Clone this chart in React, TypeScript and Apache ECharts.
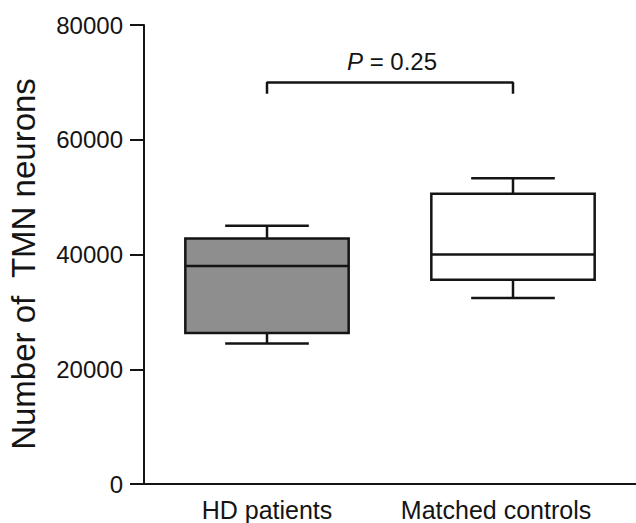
import React, { useEffect, useRef } from "react";
import * as echarts from "echarts";

const categories = ["HD patients", "Matched controls"];
const lowWhisker = [24500, 32400];
const q1 = [26300, 35600];
const median = [38000, 40000];
const q3 = [42800, 50600];
const highWhisker = [45000, 53300];
const boxFill = ["#8e8e8e", "#ffffff"];
const bracketLow = 68000;
const bracketHigh = 70000;
const pLabelItalic = "P";
const pLabelRest = " = 0.25";
const yAxisTitle = "Number of  TMN neurons";

const INK = "#141414";
const FONT = "'Liberation Sans', Arial, Helvetica, sans-serif";

export default function App() {
  const ref = useRef<HTMLDivElement>(null);

  useEffect(() => {
    if (!ref.current) return;
    const chart = echarts.init(ref.current, undefined, { renderer: "svg" });

    const boxData = categories.map((_, i) => [
      i,
      lowWhisker[i],
      q1[i],
      median[i],
      q3[i],
      highWhisker[i],
    ]);

    const bracketData = [
      [0, bracketLow],
      [0, bracketHigh],
      [1, bracketHigh],
      [1, bracketLow],
    ];

    const option: any = {
      animation: false,
      backgroundColor: "#ffffff",
      grid: { left: 144, top: 25, width: 496, height: 459, containLabel: false },
      xAxis: {
        type: "category",
        data: categories,
        axisLine: { lineStyle: { color: INK, width: 2 } },
        axisTick: { show: false },
        axisLabel: {
          interval: 0,
          hideOverlap: false,
          margin: 13,
          color: INK,
          fontFamily: FONT,
          fontSize: 25,
          formatter: (v: string, idx: number) =>
            idx === 0 ? `{a|${v}}` : `{b|${v}}`,
          rich: {
            a: { fontSize: 25, fontFamily: FONT, color: INK, padding: [0, 0, 0, 0] },
            b: { fontSize: 25, fontFamily: FONT, color: INK, padding: [0, 34, 0, 0] },
          },
        },
        splitLine: { show: false },
      },
      yAxis: {
        type: "value",
        min: 0,
        max: 80000,
        interval: 20000,
        axisLine: { show: true, lineStyle: { color: INK, width: 2 } },
        axisTick: { show: true, length: 14, lineStyle: { color: INK, width: 2 } },
        axisLabel: {
          margin: 21,
          color: INK,
          fontFamily: FONT,
          fontSize: 24,
          formatter: (v: number) => String(v),
        },
        splitLine: { show: false },
      },
      graphic: [
        {
          type: "text",
          x: 23,
          y: 264,
          rotation: Math.PI / 2,
          style: {
            text: yAxisTitle,
            fill: INK,
            font: `33px ${FONT}`,
            align: "center",
            verticalAlign: "middle",
          },
        },
        {
          type: "text",
          x: 392,
          y: 61,
          style: {
            text: `{i|${pLabelItalic}}{n|${pLabelRest}}`,
            fill: INK,
            align: "center",
            verticalAlign: "middle",
            rich: {
              i: { fontStyle: "italic", fontSize: 24, fontFamily: FONT, fill: INK },
              n: { fontSize: 24, fontFamily: FONT, fill: INK },
            },
          },
        },
      ],
      series: [
        {
          type: "custom",
          data: boxData,
          encode: { x: 0, y: [1, 2, 3, 4, 5] },
          renderItem: (params: any, api: any) => {
            const i = api.value(0);
            const band = api.size([1, 0])[0];
            const half = band * 0.332;
            const capHalf = band * 0.17;
            const pMin = api.coord([i, api.value(1)]);
            const pQ1 = api.coord([i, api.value(2)]);
            const pMed = api.coord([i, api.value(3)]);
            const pQ3 = api.coord([i, api.value(4)]);
            const pMax = api.coord([i, api.value(5)]);
            const cx = pMin[0];
            const ls = { stroke: INK, lineWidth: 2.5 };
            return {
              type: "group",
              children: [
                { type: "line", shape: { x1: cx, y1: pMin[1], x2: cx, y2: pQ1[1] }, style: ls },
                { type: "line", shape: { x1: cx, y1: pQ3[1], x2: cx, y2: pMax[1] }, style: ls },
                { type: "line", shape: { x1: cx - capHalf, y1: pMin[1], x2: cx + capHalf, y2: pMin[1] }, style: ls },
                { type: "line", shape: { x1: cx - capHalf, y1: pMax[1], x2: cx + capHalf, y2: pMax[1] }, style: ls },
                {
                  type: "rect",
                  shape: { x: cx - half, y: pQ3[1], width: half * 2, height: pQ1[1] - pQ3[1] },
                  style: { fill: boxFill[i], stroke: INK, lineWidth: 2.5 },
                },
                { type: "line", shape: { x1: cx - half, y1: pMed[1], x2: cx + half, y2: pMed[1] }, style: ls },
              ],
            };
          },
        },
        {
          type: "line",
          data: bracketData,
          symbol: "none",
          silent: true,
          lineStyle: { color: INK, width: 2.5 },
        },
      ],
    };

    chart.setOption(option);
    return () => chart.dispose();
  }, []);

  return (
    <div
      ref={ref}
      style={{ position: "fixed", left: 0, top: 0, width: 636, height: 523, background: "#fff" }}
    />
  );
}
